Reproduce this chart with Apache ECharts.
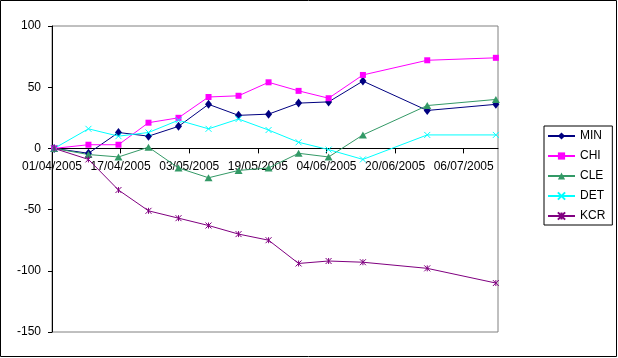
<!DOCTYPE html>
<html>
<head>
<meta charset="utf-8">
<script src="https://cdn.jsdelivr.net/npm/echarts@6/dist/echarts.min.js"></script>
<style>
html,body{margin:0;padding:0;background:#fff;}
#chart{width:618px;height:358px;}
</style>
</head>
<body>
<div id="chart"></div>
<script>
// Data (dates of the weekly observations)
var dates = ['2005-04-01','2005-04-09','2005-04-16','2005-04-23','2005-04-30','2005-05-07','2005-05-14','2005-05-21','2005-05-28','2005-06-04','2005-06-12','2005-06-27','2005-07-13'];
var MIN = [0, -4, 13, 10, 18, 36, 27, 28, 37, 38, 55, 31, 36];
var CHI = [0, 3, 3, 21, 25, 42, 43, 54, 47, 41, 60, 72, 74];
var CLE = [0, -5, -7, 1, -16, -24, -18, -16, -4, -7, 11, 35, 40];
var DET = [0, 16, 10, 13, 23, 16, 24, 15, 5, -1, -9, 11, 11];
var KCR = [0, -9, -34, -51, -57, -63, -70, -75, -94, -92, -93, -98, -110];
var seriesNames = ['MIN', 'CHI', 'CLE', 'DET', 'KCR'];
var axisStart = '2005-04-01';
var axisEnd = '2005-07-14';
var tickDays = 16;
var yTicks = [-150, -100, -50, 0, 50, 100];

var DAY = 86400000;
function utc(s){ var p = s.split('-'); return Date.UTC(+p[0], +p[1]-1, +p[2]); }
var t0 = utc(axisStart);
function dayPos(s){ return (utc(s) - t0) / DAY + 0.5; } // points sit at the middle of their day
function fmt(v){
  var d = new Date(t0 + Math.round(v) * DAY);
  var dd = ('0' + d.getUTCDate()).slice(-2), mm = ('0' + (d.getUTCMonth()+1)).slice(-2);
  return dd + '/' + mm + '/' + d.getUTCFullYear();
}
function pairs(arr){ return arr.map(function(v,i){ return [dayPos(dates[i]), v]; }); }

var colors = { MIN:'#000080', CHI:'#FF00FF', CLE:'#339966', DET:'#00FFFF', KCR:'#800080' };
var symbols = {
  MIN: {symbol:'diamond', size:[7,9], filled:true},
  CHI: {symbol:'rect', size:6, filled:true},
  CLE: {symbol:'triangle', size:[8,7], filled:true},
  DET: {symbol:'path://M0,0L10,10M0,10L10,0', size:6, filled:false},
  KCR: {symbol:'path://M0,0L10,10M0,10L10,0M5,0L5,10', size:6, filled:false}
};
var dataMap = { MIN:MIN, CHI:CHI, CLE:CLE, DET:DET, KCR:KCR };

var series = seriesNames.map(function(n){
  var s = symbols[n];
  return {
    name: n, type: 'line', data: pairs(dataMap[n]),
    color: colors[n],
    symbol: s.symbol, symbolSize: s.size, showAllSymbol: true,
    lineStyle: { color: colors[n], width: 1 },
    itemStyle: s.filled ? { color: colors[n], borderWidth: 0 } :
      { color: 'rgba(0,0,0,0)', borderColor: colors[n], borderWidth: 1 },
    emphasis: { disabled: true },
    animation: false
  };
});

var gridTop = 26, gridBottom = 26, chartH = 358;
var plotH = chartH - gridTop - gridBottom;
var yMin = yTicks[0], yMax = yTicks[yTicks.length-1];
// shift the x axis (line, ticks, labels) up so that it crosses the y axis at 0
var xAxisOffset = -plotH * (0 - yMin) / (yMax - yMin);

var chart = echarts.init(document.getElementById('chart'), null, {renderer:'canvas'});
chart.setOption({
  animation: false,
  backgroundColor: '#ffffff',
  textStyle: { fontFamily: 'Liberation Sans, Arial, sans-serif' },
  grid: { left: 52, right: 120, top: gridTop, bottom: gridBottom, show: true, borderColor: '#808080', borderWidth: 1, backgroundColor: 'transparent' },
  xAxis: {
    type: 'value', min: 0, max: (utc(axisEnd) - t0) / DAY, interval: tickDays,
    position: 'bottom', offset: xAxisOffset,
    axisLine: { onZero: false, lineStyle: { color: '#000', width: 1 } },
    axisTick: { show: true, length: 5, lineStyle: { color: '#000' } },
    splitLine: { show: false },
    axisLabel: { formatter: fmt, showMaxLabel: false, color: '#000', fontSize: 12, margin: 12, fontFamily: 'Liberation Sans, Arial, sans-serif' }
  },
  yAxis: {
    type: 'value', min: yMin, max: yMax, interval: 50,
    axisLine: { show: true, onZero: false, lineStyle: { color: '#000', width: 1 } },
    axisTick: { show: true, length: 4, lineStyle: { color: '#000' } },
    splitLine: { show: false },
    axisLabel: { color: '#000', fontSize: 12, margin: 11, fontFamily: 'Liberation Sans, Arial, sans-serif' }
  },
  legend: {
    orient: 'vertical', left: 544, top: 126,
    padding: [4, 7, 3, 3],
    itemWidth: 27, itemHeight: 9, itemGap: 8,
    borderColor: '#000', borderWidth: 1, backgroundColor: '#fff',
    textStyle: { color: '#000', fontSize: 12, fontFamily: 'Liberation Sans, Arial, sans-serif' },
    data: seriesNames
  },
  graphic: [{
    type: 'rect', shape: { x: 0.5, y: 0.5, width: 616, height: 356 },
    style: { fill: 'none', stroke: '#000', lineWidth: 1 }, silent: true, z: 100
  }],
  series: series
});
</script>
</body>
</html>
